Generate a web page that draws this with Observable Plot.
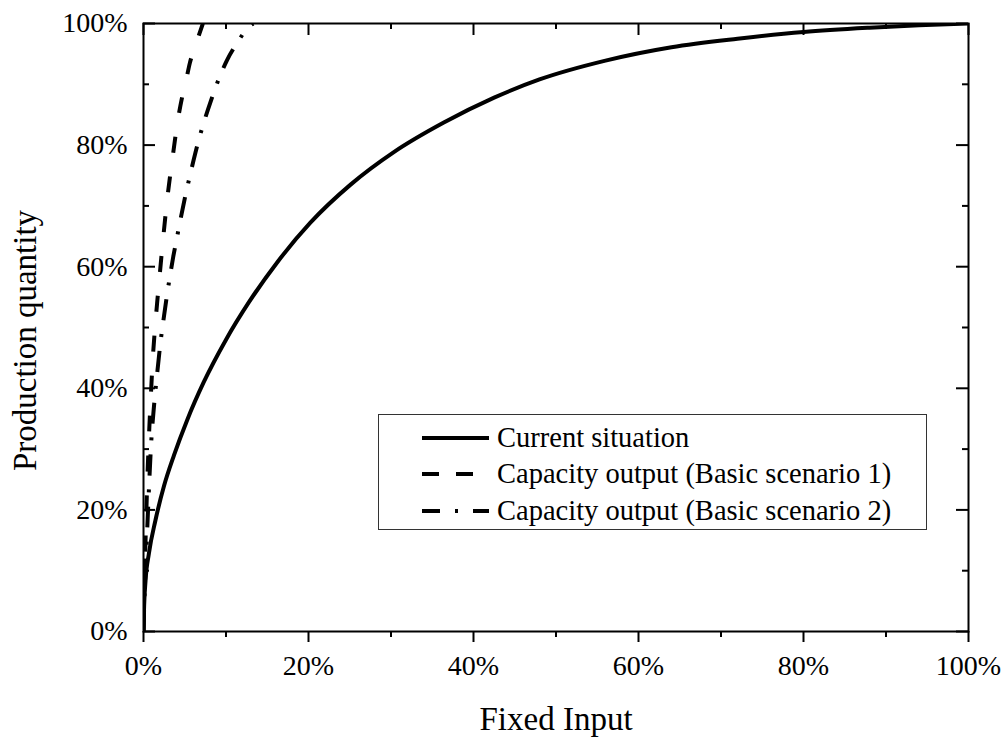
<!DOCTYPE html>
<html><head><meta charset="utf-8">
<script src="https://cdn.jsdelivr.net/npm/d3@7"></script>
<script src="https://cdn.jsdelivr.net/npm/@observablehq/plot@0.6"></script>
<style>
body{margin:0;background:#fff;}
#wrap{position:relative;width:1008px;height:745px;font-family:"Liberation Serif","Times New Roman",serif;}
#legend{position:absolute;left:378px;top:414px;width:549px;height:116px;border:1px solid #333;background:#fff;box-sizing:border-box;}
.row{position:absolute;left:0;width:100%;height:36px;}
.row svg{position:absolute;left:43px;top:0;}
.row span{position:absolute;left:118px;top:0;line-height:36px;font-size:28.5px;color:#000;white-space:nowrap;}
</style></head><body><div id="wrap"></div>
<script>
// Current situation
const curX = [0, 0.05, 0.25, 0.65, 1.45, 2.5, 3.7, 5.3, 7.3, 10, 12.8, 16.2, 20.2, 25.1, 30.3, 36.4, 42.5, 48, 56, 64, 72, 80, 88, 94, 100];
const curY = [0, 3, 8.4, 12.8, 18.3, 24.0, 29.0, 34.8, 41.0, 48.0, 54.2, 60.7, 67.2, 73.5, 78.8, 83.7, 87.8, 90.8, 93.9, 96.1, 97.5, 98.6, 99.3, 99.7, 100];
// Capacity output (Basic scenario 1)
const s1X = [0, 0.05, 0.15, 0.35, 0.65, 0.9, 1.15, 1.4, 1.65, 1.94, 2.4, 2.9, 3.5, 4.2, 4.7, 5.2, 5.6, 6.5, 7.2];
const s1Y = [0, 5, 10, 20, 31.7, 39, 45.4, 50, 54, 58.3, 64.9, 71.4, 77.7, 84.4, 88, 90.9, 93.4, 97.2, 100];
// Capacity output (Basic scenario 2)
const s2X = [0, 0.1, 0.25, 0.55, 0.93, 1.3, 1.7, 2.1, 2.5, 2.9, 3.3, 3.6, 4.0, 4.4, 5.0, 5.6, 6.3, 7.0, 8.2, 9.25, 10.1, 11.3, 12.8, 13.3];
const s2Y = [0, 5, 10, 20, 31, 37.5, 43, 48, 52, 55.8, 59.2, 61.6, 64.4, 67.2, 71.2, 74.8, 78.8, 82.3, 87.4, 91.3, 93.9, 96.7, 99.5, 100];

const seriesNames = ["Current situation", "Capacity output (Basic scenario 1)", "Capacity output (Basic scenario 2)"];
const majorTicks = [0, 20, 40, 60, 80, 100];
const minorTicks = [10, 30, 50, 70, 90];
const xTitle = "Fixed Input";
const yTitle = "Production quantity";

const toRows = (xs, ys) => xs.map((x, i) => ({x, y: ys[i]}));
const cur = toRows(curX, curY), s1 = toRows(s1X, s1Y), s2 = toRows(s2X, s2Y);

const W = 1008, H = 745, mL = 143, mR = 40, mT = 23, mB = 114;
const innerW = W - mL - mR, innerH = H - mT - mB;
const fmt = d => d + "%";
const lineOpts = {x: "x", y: "y", stroke: "#000", strokeWidth: 4, curve: "monotone-x", clip: true, strokeLinecap: "butt"};
const dash1 = "16,24", dash2 = "21,14,3,14";

const chart = Plot.plot({
  width: W, height: H,
  marginLeft: mL, marginRight: mR, marginTop: mT, marginBottom: mB,
  style: {fontFamily: "'Liberation Serif','Times New Roman',serif", fontSize: "28px", color: "#000", background: "#fff", overflow: "visible"},
  x: {domain: [0, 100]},
  y: {domain: [0, 100]},
  marks: [
    Plot.line(cur, lineOpts),
    Plot.line(s1, {...lineOpts, strokeDasharray: dash1}),
    Plot.line(s2, {...lineOpts, strokeDasharray: dash2}),
    Plot.frame({stroke: "#000", strokeWidth: 2}),
    // bottom axis (outward ticks)
    Plot.axisX({ticks: majorTicks, tickSize: 11, tickPadding: 13, tickFormat: fmt, label: null, strokeWidth: 2, fontSize: 28}),
    Plot.tickX(minorTicks, {x: d => d, insetTop: innerH, insetBottom: -6, strokeWidth: 2}),
    // top inward ticks
    Plot.tickX(majorTicks, {x: d => d, insetBottom: innerH - 12, strokeWidth: 2}),
    Plot.tickX(minorTicks, {x: d => d, insetBottom: innerH - 6, strokeWidth: 2}),
    // left axis labels + inward ticks
    Plot.axisY({ticks: majorTicks, tickSize: 0, tickPadding: 16, tickFormat: fmt, label: null, fontSize: 28}),
    Plot.tickY(majorTicks, {y: d => d, insetRight: innerW - 12, strokeWidth: 2}),
    Plot.tickY(minorTicks, {y: d => d, insetRight: innerW - 6, strokeWidth: 2}),
    // right inward ticks
    Plot.tickY(majorTicks, {y: d => d, insetLeft: innerW - 12, strokeWidth: 2}),
    Plot.tickY(minorTicks, {y: d => d, insetLeft: innerW - 6, strokeWidth: 2}),
    // titles
    Plot.text([xTitle], {text: d => d, frameAnchor: "bottom", dy: 88, fontSize: 33, lineAnchor: "middle", textAnchor: "middle"}),
    Plot.text([yTitle], {text: d => d, frameAnchor: "left", dx: -118.5, dy: 13, rotate: -90, fontSize: 33, lineAnchor: "middle", textAnchor: "middle"})
  ]
});

const wrap = document.getElementById("wrap");
wrap.appendChild(chart);

// legend
const legend = document.createElement("div");
legend.id = "legend";
const dashes = [null, "17,17", "18,15,3,15"];
const rowTops = [5, 41, 78];
seriesNames.forEach((name, i) => {
  const row = document.createElement("div");
  row.className = "row";
  row.style.top = rowTops[i] + "px";
  const svg = d3.create("svg").attr("width", 67).attr("height", 36);
  svg.append("line").attr("x1", 0).attr("x2", 67).attr("y1", 18).attr("y2", 18)
    .attr("stroke", "#000").attr("stroke-width", 4)
    .attr("stroke-dasharray", dashes[i]);
  row.appendChild(svg.node());
  const span = document.createElement("span");
  span.textContent = name;
  row.appendChild(span);
  legend.appendChild(row);
});
wrap.appendChild(legend);
</script>
</body></html>
